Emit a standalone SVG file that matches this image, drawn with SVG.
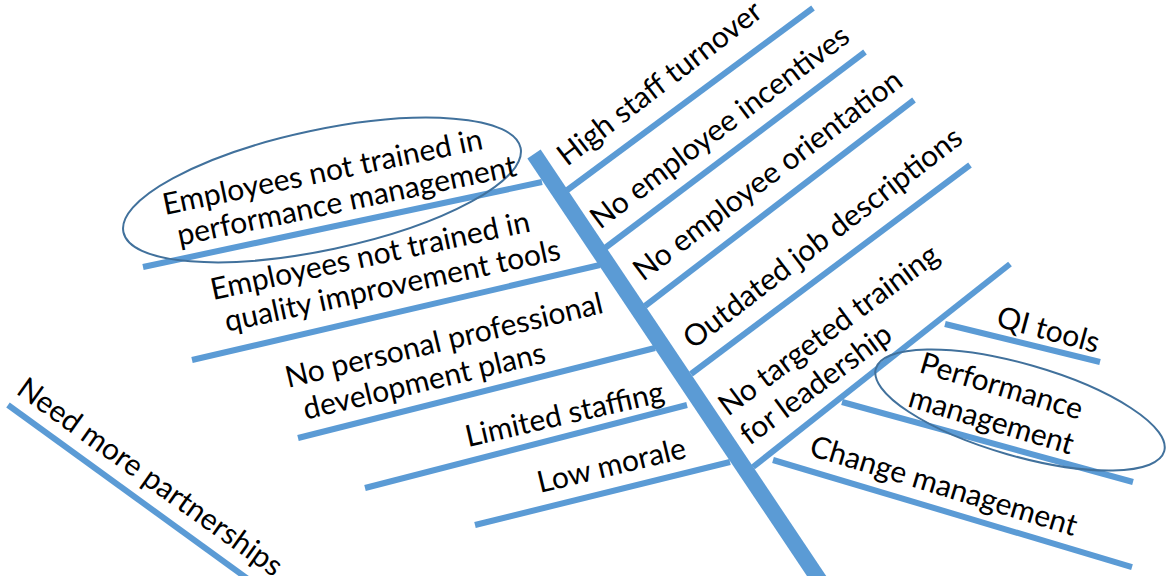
<svg xmlns="http://www.w3.org/2000/svg" width="1168" height="576" viewBox="0 0 1168 576">
<style>
.ln{stroke:#5B9BD5;stroke-width:6;fill:none}
.sp{stroke:#5B9BD5;stroke-width:16;fill:none}
.el{stroke:#41719C;stroke-width:2;fill:none}
text{font-family:Lato,"Liberation Sans",sans-serif;font-size:30px;fill:#000}
</style>
<rect width="1168" height="576" fill="#fff"/>
<g id="connectors">
<line class="sp" x1="534" y1="154" x2="830" y2="596"/>
<line class="ln" x1="143" y1="267" x2="542" y2="182"/>
<line class="ln" x1="192" y1="360" x2="600" y2="265"/>
<line class="ln" x1="298" y1="438" x2="655" y2="348"/>
<line class="ln" x1="365" y1="488" x2="687" y2="405"/>
<line class="ln" x1="475" y1="525" x2="730" y2="462"/>
<line class="ln" x1="566" y1="191" x2="813" y2="8"/>
<line class="ln" x1="605" y1="248" x2="865" y2="52"/>
<line class="ln" x1="645" y1="306" x2="914" y2="100"/>
<line class="ln" x1="691" y1="374" x2="970" y2="165"/>
<line class="ln" x1="753" y1="467" x2="1010" y2="264"/>
<line class="ln" x1="945" y1="324" x2="1100" y2="362"/>
<line class="ln" x1="842" y1="402" x2="1133" y2="482"/>
<line class="ln" x1="773" y1="460" x2="1132" y2="567"/>
<line class="ln" x1="8" y1="405" x2="252" y2="582"/>
</g>
<g id="n-turnover"><text transform="translate(567,167) rotate(-37.5)">High staff turnover</text></g>
<g id="n-incentives"><text transform="translate(600,230) rotate(-37)">No employee incentives</text></g>
<g id="n-orientation"><text transform="translate(643,282) rotate(-37)">No employee orientation</text></g>
<g id="n-jobdesc"><text transform="translate(693,350) rotate(-37.5)">Outdated job descriptions</text></g>
<g id="n-leadership"><text transform="translate(728,417) rotate(-36.5)"><tspan x="0" y="0">No targeted training</tspan><tspan x="0" y="36">for leadership</tspan></text></g>
<g id="n-qitools"><text transform="translate(995,326) rotate(15)">QI tools</text></g>
<g id="n-perfmgmt"><text transform="translate(918,372) rotate(16.5)"><tspan x="0" y="0">Performance</tspan><tspan x="-1" y="36">management</tspan></text><ellipse class="el" cx="1020" cy="410" rx="150" ry="46" transform="rotate(16 1020 410)"/></g>
<g id="n-change"><text transform="translate(808,455) rotate(17)">Change management</text></g>
<g id="n-emp-perf"><ellipse class="el" cx="322" cy="190" rx="203" ry="60" transform="rotate(-12 322 190)"/><text transform="translate(165,215) rotate(-11.7)"><tspan x="0" y="0">Employees not trained in</tspan><tspan x="8" y="33">performance management</tspan></text></g>
<g id="n-emp-qi"><text transform="translate(213,300) rotate(-12.2)"><tspan x="0" y="0">Employees not trained in</tspan><tspan x="7" y="34">quality improvement tools</tspan></text></g>
<g id="n-pdp"><text transform="translate(288,388) rotate(-13.4)"><tspan x="0" y="0">No personal professional</tspan><tspan x="10" y="35">development plans</tspan></text></g>
<g id="n-staffing"><text transform="translate(468,447) rotate(-13)">Limited staffing</text></g>
<g id="n-morale"><text transform="translate(540,493) rotate(-13.5)">Low morale</text></g>
<g id="n-partnerships"><text transform="translate(15,393) rotate(35.5)">Need more partnerships</text></g>
</svg>
